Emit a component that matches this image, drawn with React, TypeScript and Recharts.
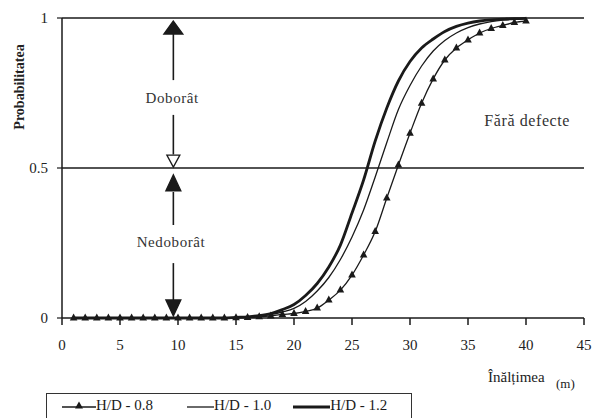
import React from 'react';
import {
  LineChart,
  Line,
  XAxis,
  YAxis,
  ReferenceLine,
  ReferenceDot,
} from 'recharts';

// inaltimea (m)
const heights = [
  1, 2, 3, 4, 5, 6, 7, 8, 9, 10, 11, 12, 13, 14, 15, 16, 17, 18, 19, 20,
  21, 22, 23, 24, 25, 26, 27, 28, 29, 30, 31, 32, 33, 34, 35, 36, 37, 38, 39, 40,
];

// probabilitatea de doborare, pe clase H/D
const hd08 = [
  0, 0, 0, 0, 0, 0, 0, 0, 0, 0, 0, 0, 0, 0, 0.001, 0.002, 0.004, 0.007, 0.012, 0.015,
  0.022, 0.033, 0.06, 0.093, 0.143, 0.21, 0.288, 0.4, 0.51, 0.616, 0.716, 0.797, 0.86, 0.9, 0.927, 0.95, 0.965, 0.975, 0.985, 0.99,
];
const hd10 = [
  0, 0, 0, 0, 0, 0, 0, 0, 0, 0, 0, 0, 0, 0, 0.001, 0.003, 0.006, 0.011, 0.02, 0.032,
  0.055, 0.09, 0.135, 0.195, 0.27, 0.36, 0.47, 0.585, 0.695, 0.775, 0.84, 0.89, 0.925, 0.95, 0.968, 0.98, 0.988, 0.993, 0.996, 0.998,
];
const hd12 = [
  0, 0, 0, 0, 0, 0, 0, 0, 0, 0, 0, 0, 0, 0, 0.002, 0.004, 0.008, 0.015, 0.028, 0.045,
  0.075, 0.115, 0.17, 0.243, 0.35, 0.46, 0.59, 0.7, 0.79, 0.855, 0.9, 0.93, 0.955, 0.972, 0.983, 0.99, 0.994, 0.996, 0.998, 0.999,
];

const xTicks = [0, 5, 10, 15, 20, 25, 30, 35, 40, 45];
const yTicks = [0, 0.5, 1];

const data = heights.map((h, i) => ({ h, a: hd08[i], b: hd10[i], c: hd12[i] }));

const INK = '#1a1a1a';
const FONT = '"Liberation Serif", "DejaVu Serif", serif';
const ARROW_X = 9.6;

const TriangleDot = (props: any) => {
  const { cx, cy, index } = props;
  if (cx == null || cy == null) return null;
  return (
    <polygon
      key={`t-${index}`}
      points={`${cx},${cy - 4.5} ${cx - 3.8},${cy + 2.5} ${cx + 3.8},${cy + 2.5}`}
      fill={INK}
    />
  );
};

// arrow heads: tip at (cx, cy)
const headUp = (w: number, h: number, fill = true) => (p: any) => (
  <polygon
    points={`${p.cx},${p.cy} ${p.cx - w / 2},${p.cy + h} ${p.cx + w / 2},${p.cy + h}`}
    fill={fill ? INK : '#fff'}
    stroke={INK}
    strokeWidth={1.3}
  />
);
const headDown = (w: number, h: number, fill = true) => (p: any) => (
  <polygon
    points={`${p.cx},${p.cy} ${p.cx - w / 2},${p.cy - h} ${p.cx + w / 2},${p.cy - h}`}
    fill={fill ? INK : '#fff'}
    stroke={INK}
    strokeWidth={1.3}
  />
);
const label = (txt: string, size: number) => (p: any) => (
  <text
    x={p.cx}
    y={p.cy}
    textAnchor="middle"
    dominantBaseline="central"
    fontFamily={FONT}
    fontSize={size}
    fill="#333"
    letterSpacing={0.6}
  >
    {txt}
  </text>
);

const LegendBox = () => (
  <div
    style={{
      position: 'absolute',
      left: 46,
      top: 393,
      width: 366,
      height: 32,
      border: '1.3px solid #333',
      borderBottom: 'none',
      display: 'flex',
      alignItems: 'center',
      fontFamily: FONT,
      fontSize: 15,
      color: INK,
      boxSizing: 'border-box',
      paddingBottom: 8,
    }}
  >
    <span style={{ display: 'flex', alignItems: 'center', marginLeft: 15 }}>
      <svg width={34} height={12}>
        <line x1={0} y1={7} x2={34} y2={7} stroke={INK} strokeWidth={1.3} />
        <polygon points="17,1.5 13,8.5 21,8.5" fill={INK} />
      </svg>
      <span>H/D - 0.8</span>
    </span>
    <span style={{ display: 'flex', alignItems: 'center', marginLeft: 34 }}>
      <svg width={27} height={12}>
        <line x1={0} y1={7} x2={27} y2={7} stroke={INK} strokeWidth={1.3} />
      </svg>
      <span>H/D - 1.0</span>
    </span>
    <span style={{ display: 'flex', alignItems: 'center', marginLeft: 22 }}>
      <svg width={37} height={12}>
        <line x1={0} y1={7} x2={37} y2={7} stroke={INK} strokeWidth={3} />
      </svg>
      <span>H/D - 1.2</span>
    </span>
  </div>
);

export default function App() {
  return (
    <div style={{ position: 'absolute', left: 0, top: 0, width: 592, height: 418, background: '#fff', overflow: 'hidden' }}>
      <LineChart
        width={592}
        height={418}
        data={data}
        margin={{ top: 18, right: 8, bottom: 70, left: 22 }}
      >
        <XAxis
          dataKey="h"
          type="number"
          domain={[0, 45]}
          ticks={xTicks}
          interval={0}
          height={30}
          tickSize={7}
          tickMargin={14}
          axisLine={{ stroke: INK, strokeWidth: 1.5 }}
          tickLine={{ stroke: INK, strokeWidth: 1.5 }}
          tick={{ fill: '#222', fontSize: 15, fontFamily: FONT }}
          label={{
            content: () => (
              <g>
                <text x={488} y={382} fontFamily={FONT} fontSize={15} fill="#222">
                  Înălțimea
                </text>
                <text x={556} y={388} fontFamily={FONT} fontSize={13} fill="#222">
                  (m)
                </text>
              </g>
            ),
          }}
        />
        <YAxis
          type="number"
          domain={[0, 1]}
          ticks={yTicks}
          width={40}
          tickSize={5}
          tickMargin={9}
          axisLine={{ stroke: INK, strokeWidth: 1.5 }}
          tickLine={{ stroke: INK, strokeWidth: 1.2 }}
          tick={{ fill: '#222', fontSize: 15, fontFamily: FONT }}
          label={{
            content: () => (
              <text
                x={19}
                y={87}
                transform="rotate(-90 19 87)"
                textAnchor="middle"
                dominantBaseline="central"
                fontFamily={FONT}
                fontWeight="bold"
                fontSize={14}
                fill="#222"
              >
                Probabilitatea
              </text>
            ),
          }}
        />
        <ReferenceLine y={1} stroke={INK} strokeWidth={1.6} />
        <ReferenceLine y={0.5} stroke={INK} strokeWidth={1.4} />

        {/* sageti Doborat / Nedoborat */}
        <ReferenceLine segment={[{ x: ARROW_X, y: 0.96 }, { x: ARROW_X, y: 0.793 }]} stroke={INK} strokeWidth={1.6} />
        <ReferenceLine segment={[{ x: ARROW_X, y: 0.677 }, { x: ARROW_X, y: 0.545 }]} stroke={INK} strokeWidth={1.6} />
        <ReferenceLine segment={[{ x: ARROW_X, y: 0.42 }, { x: ARROW_X, y: 0.31 }]} stroke={INK} strokeWidth={1.6} />
        <ReferenceLine segment={[{ x: ARROW_X, y: 0.183 }, { x: ARROW_X, y: 0.06 }]} stroke={INK} strokeWidth={1.6} />
        <ReferenceDot x={ARROW_X} y={0.99} shape={headUp(19, 13)} />
        <ReferenceDot x={ARROW_X} y={0.503} shape={headDown(13, 12, false)} />
        <ReferenceDot x={ARROW_X} y={0.477} shape={headUp(15, 16)} />
        <ReferenceDot x={ARROW_X} y={0.007} shape={headDown(15, 16)} />
        <ReferenceDot x={9.5} y={0.733} shape={label('Doborât', 15)} />
        <ReferenceDot x={9.4} y={0.253} shape={label('Nedoborât', 15)} />
        <ReferenceDot x={40.1} y={0.66} shape={label('Fără defecte', 16)} />

        <Line
          dataKey="a"
          type="monotone"
          stroke={INK}
          strokeWidth={1.3}
          dot={TriangleDot}
          activeDot={false}
          isAnimationActive={false}
        />
        <Line
          dataKey="b"
          type="monotone"
          stroke={INK}
          strokeWidth={1.3}
          dot={false}
          activeDot={false}
          isAnimationActive={false}
        />
        <Line
          dataKey="c"
          type="monotone"
          stroke={INK}
          strokeWidth={2.8}
          dot={false}
          activeDot={false}
          isAnimationActive={false}
        />
      </LineChart>
      <LegendBox />
    </div>
  );
}
